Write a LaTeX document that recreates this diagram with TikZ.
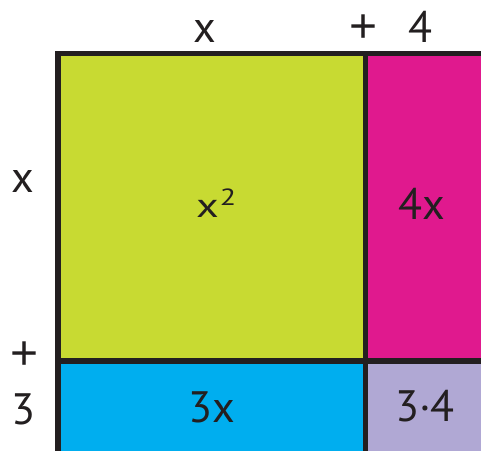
\documentclass[tikz,border=0pt]{standalone}
\usepackage{fontspec}
\usepackage{graphicx}
\setmainfont{PT Sans}
\newfontfamily\plusfont{Liberation Sans}
\definecolor{lime}{HTML}{C8DA32}
\definecolor{mag}{HTML}{E0198E}
\definecolor{cyanb}{HTML}{00AEEF}
\definecolor{lav}{HTML}{B0A8D4}
\definecolor{ink}{HTML}{231F20}
\begin{document}
\begin{tikzpicture}[x=1pt,y=-1pt,
  lbl/.style={anchor=base,inner sep=0pt,text=ink,font=\fontsize{44}{44}\selectfont},
  plus/.style={anchor=center,inner sep=0pt,text=ink,font=\plusfont\fontsize{48}{48}\selectfont},
  sml/.style={anchor=base west,inner sep=0pt,text=ink,font=\fontsize{44}{44}\selectfont},
  edge/.style={draw=ink,line width=5.5pt}]
\useasboundingbox (0,0) rectangle (481,450);
\clip (0,0) rectangle (481,450);
\fill[lime] (58,53.5) rectangle (365.5,361);
\fill[mag] (365.5,53.5) rectangle (500,361);
\fill[cyanb] (58,361) rectangle (365.5,470);
\fill[lav] (365.5,361) rectangle (500,470);
\coordinate (tl) at (58,53.5);
\coordinate (tr) at (500,53.5);
\coordinate (bl) at (58,470);
\coordinate (vt) at (365.5,53.5);
\coordinate (vb) at (365.5,470);
\coordinate (hl) at (58,361);
\coordinate (hr) at (500,361);
\draw[edge] (bl) -- (tl) -- (tr);
\draw[edge] (vt) -- (vb);
\draw[edge] (hl) -- (hr);
\node[lbl] (tx) at (205,42) {x};
\node[plus] (tp) at (364,28.5) {+};
\node[lbl] (t4) at (420,42) {4};
\node[lbl] (lx) at (23,192) {x};
\node[plus] (lp) at (25,356) {+};
\node[lbl] (l3) at (23.5,424) {3};
\node[sml] (sq) at (196,217) {\scalebox{1}[0.78]{x\hspace{1pt}\raisebox{15pt}{\fontsize{30}{30}\selectfont 2}}};
\node[lbl] (fx) at (422,219) {4x};
\node[lbl] (tx3) at (212,422.7) {3x};
\node[lbl] (tf) at (425,421.7) {3·4};
\end{tikzpicture}
\end{document}
